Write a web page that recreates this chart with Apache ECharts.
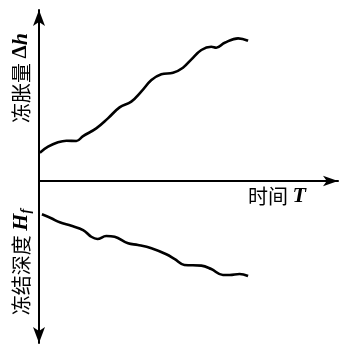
<!DOCTYPE html>
<html>
<head>
<meta charset="utf-8">
<script src="https://cdn.jsdelivr.net/npm/echarts@6/dist/echarts.min.js"></script>
<style>
html,body{margin:0;padding:0;background:#fff;}
#chart{width:339px;height:345px;}
</style>
</head>
<body>
<div id="chart"></div>
<script>
// Time T (arbitrary units)
var heaveTime = [0.3, 3.1, 6.5, 9.4, 12.8, 15.1, 19.6, 23.6, 27.6, 31.6, 35.0, 38.5, 41.9, 45.9, 49.3, 52.2, 55.6, 59.0, 60.7, 63.6, 68.2, 71.6];
// Frost heave Δh (arbitrary units)
var heaveValues = [17.3, 20.9, 23.6, 24.6, 24.4, 27.4, 32.1, 38.2, 44.9, 48.4, 54.5, 61.6, 65.1, 66.0, 69.1, 74.2, 79.9, 81.9, 81.3, 84.3, 87.0, 85.5];

var depthTime = [1.0, 4.2, 7.1, 11.1, 15.1, 17.9, 20.0, 23.0, 25.9, 30.5, 33.9, 38.5, 43.6, 46.5, 49.8, 55.6, 59.0, 63.0, 65.3, 68.7, 71.6];
// Freezing depth H_f (arbitrary units, plotted downward)
var depthValues = [20.3, 22.7, 25.2, 27.3, 29.9, 34.0, 35.4, 33.5, 34.0, 38.0, 39.0, 41.0, 44.7, 47.7, 51.2, 51.6, 53.7, 57.3, 57.3, 56.7, 57.9];

var labelHeave = ['冻胀量 ', 'Δ', 'h'];
var labelDepth = ['冻结深度 ', 'H', 'f'];
var labelTime = ['时间 ', 'T'];

var heaveData = heaveTime.map(function (t, i) { return [t, heaveValues[i]]; });
var depthData = depthTime.map(function (t, i) { return [t, -depthValues[i]]; });

var cjk = '"Noto Sans CJK SC", sans-serif';
var serif = '"Liberation Serif", "DejaVu Serif", serif';
var rich = {
  c: { fontFamily: cjk, fontSize: 20, color: '#111' },
  d: { fontFamily: serif, fontSize: 21, fontWeight: 'bold', color: '#111' },
  i: { fontFamily: serif, fontSize: 22, fontWeight: 'bold', fontStyle: 'italic', color: '#111' },
  s: { fontFamily: serif, fontSize: 14, fontStyle: 'italic', fontWeight: 'bold', color: '#111', padding: [10, 0, 0, 0] }
};

var chart = echarts.init(document.getElementById('chart'), null, { renderer: 'canvas' });
chart.setOption({
  animation: false,
  backgroundColor: '#fff',
  grid: { left: 39, right: 1, top: 10, bottom: 2 },
  xAxis: {
    type: 'value', min: 0, max: 102.4,
    axisLine: { show: true, onZero: true, symbol: ['none', 'arrow'], symbolSize: [8, 15], lineStyle: { color: '#000', width: 2 } },
    axisTick: { show: false }, axisLabel: { show: false }, splitLine: { show: false }
  },
  yAxis: {
    type: 'value', min: -98.8, max: 104.3,
    axisLine: { show: true, onZero: false, symbol: ['arrow', 'arrow'], symbolSize: [9, 16], lineStyle: { color: '#000', width: 2 } },
    axisTick: { show: false }, axisLabel: { show: false }, splitLine: { show: false }
  },
  series: [
    { type: 'line', data: heaveData, smooth: 0.4, showSymbol: false, lineStyle: { color: '#000', width: 2.6 } },
    { type: 'line', data: depthData, smooth: 0.4, showSymbol: false, lineStyle: { color: '#000', width: 2.6 } }
  ],
  graphic: [
    {
      type: 'text', x: 21, y: 78, rotation: Math.PI / 2,
      style: {
        text: '{c|' + labelHeave[0] + '}{d|' + labelHeave[1] + '}{i|' + labelHeave[2] + '}',
        rich: rich, align: 'center', verticalAlign: 'middle'
      }
    },
    {
      type: 'text', x: 21, y: 262, rotation: Math.PI / 2,
      style: {
        text: '{c|' + labelDepth[0] + '}{i|' + labelDepth[1] + '}{s|' + labelDepth[2] + '}',
        rich: rich, align: 'center', verticalAlign: 'middle'
      }
    },
    {
      type: 'text', x: 277, y: 196,
      style: {
        text: '{c|' + labelTime[0] + '}{i|' + labelTime[1] + '}',
        rich: rich, align: 'center', verticalAlign: 'middle'
      }
    }
  ]
});
</script>
</body>
</html>
